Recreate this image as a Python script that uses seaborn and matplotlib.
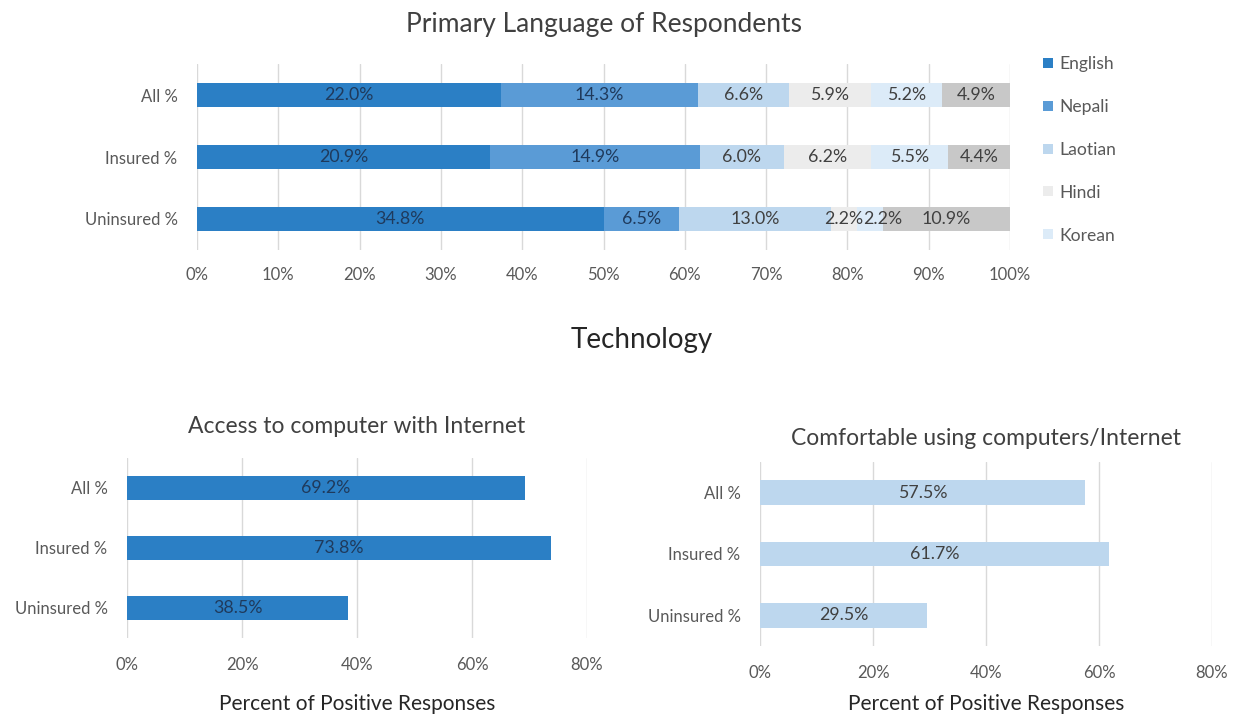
import matplotlib
matplotlib.use("Agg")
import matplotlib.pyplot as plt
from matplotlib.lines import Line2D
import numpy as np
import pandas as pd
import seaborn as sns

# ---- data ----
groups = ["All %", "Insured %", "Uninsured %"]
languages = ["English", "Nepali", "Laotian", "Hindi", "Korean", "Other"]
english = [22.0, 20.9, 34.8]
nepali = [14.3, 14.9, 6.5]
laotian = [6.6, 6.0, 13.0]
hindi = [5.9, 6.2, 2.2]
korean = [5.2, 5.5, 2.2]
other = [4.9, 4.4, 10.9]

access_internet = [69.2, 73.8, 38.5]
comfortable_internet = [57.5, 61.7, 29.5]

lang_colors = ["#2b7fc5", "#5a9bd6", "#bdd7ee", "#ececec", "#dcebf8", "#c8c8c8"]
label_colors = ["#1f3a5c", "#1f3a5c", "#404040", "#404040", "#404040", "#404040"]

sns.set_theme(style="white")
plt.rcParams["font.family"] = ["Lato", "DejaVu Sans"]

GRID = "#d9d9d9"
TICK = "#595959"
LABEL_FS = 12.8

fig = plt.figure(figsize=(12.36, 7.15), dpi=100)


def px_axes(x0, x1, y0, y1):
    W, H = 1236, 715
    return fig.add_axes([x0 / W, 1 - y1 / H, (x1 - x0) / W, (y1 - y0) / H])


def style_axes(ax, xmax, step, xpad=12):
    ax.set_xlim(0, xmax)
    ticks = np.arange(0, xmax + 0.001, step)
    ax.set_xticks(ticks)
    ax.set_xticklabels([f"{t:.0f}%" for t in ticks], color=TICK, fontsize=12)
    ax.tick_params(axis="y", labelsize=12, labelcolor=TICK, length=0, pad=14)
    ax.tick_params(axis="x", length=0, pad=xpad)
    for s in ax.spines.values():
        s.set_visible(False)
    ax.xaxis.grid(True, color=GRID, linewidth=1)
    ax.set_axisbelow(True)
    ax.set_ylabel("")


# ---- top: 100% stacked language shares ----
ax_top = px_axes(197, 1010, 64, 250)
lang_df = pd.DataFrame(
    {"English": english, "Nepali": nepali, "Laotian": laotian,
     "Hindi": hindi, "Korean": korean, "Other": other},
    index=groups,
)
shares = lang_df.div(lang_df.sum(axis=1), axis=0) * 100
cum = shares.cumsum(axis=1)

# overlay cumulative bars from the widest to the narrowest
for i in range(len(languages) - 1, -1, -1):
    d = pd.DataFrame({"group": groups, "cum": cum.iloc[:, i].values})
    sns.barplot(data=d, x="cum", y="group", orient="h", color=lang_colors[i],
                saturation=1, width=0.39, ax=ax_top, linewidth=0)

# segment labels; a label that would run into its left neighbour is nudged right
half_w = 2.35  # half of a label's width, in axis percent
for r, g in enumerate(groups):
    prev_right = -np.inf
    for i, lang in enumerate(languages):
        center = cum.loc[g, lang] - shares.loc[g, lang] / 2
        if center - half_w < prev_right:
            center = prev_right + half_w
        prev_right = center + half_w
        ax_top.text(center, r, f"{lang_df.loc[g, lang]:.1f}%", ha="center",
                    va="center", fontsize=LABEL_FS, color=label_colors[i])

style_axes(ax_top, 100, 10)
ax_top.set_xlabel("")
ax_top.set_title("Primary Language of Respondents", fontsize=19, color="#404040",
                 pad=23)

handles = [Line2D([0], [0], marker="s", linestyle="", markersize=7,
                  markerfacecolor=lang_colors[i], markeredgewidth=0)
           for i in range(5)]
fig.legend(handles, languages[:5], loc="upper left",
           bbox_to_anchor=(1023 / 1236, 1 - 40 / 715), frameon=False,
           fontsize=12.6, labelcolor=TICK, handletextpad=0.2, labelspacing=1.54,
           handlelength=1.0)

fig.text(642 / 1236, 1 - 340 / 715, "Technology", ha="center", va="center",
         fontsize=20, color="#262626")

# ---- bottom left: access to computer with internet ----
ax_bl = px_axes(127, 587, 458, 638)
d_bl = pd.DataFrame({"group": groups, "value": access_internet})
sns.barplot(data=d_bl, x="value", y="group", orient="h", color="#2b7fc5",
            saturation=1, width=0.4, ax=ax_bl, linewidth=0)
for r, v in enumerate(access_internet):
    ax_bl.text(v / 2, r, f"{v:.1f}%", ha="center", va="center",
               fontsize=LABEL_FS, color="#1f3a5c")
style_axes(ax_bl, 80, 20, xpad=14)
ax_bl.set_title("Access to computer with Internet", fontsize=16.5,
                color="#404040", pad=18)
ax_bl.set_xlabel("Percent of Positive Responses", fontsize=15, color="#262626",
                 labelpad=14.5)

# ---- bottom right: comfortable using computers/internet ----
ax_br = px_axes(760, 1212, 462, 646)
d_br = pd.DataFrame({"group": groups, "value": comfortable_internet})
sns.barplot(data=d_br, x="value", y="group", orient="h", color="#bdd7ee",
            saturation=1, width=0.4, ax=ax_br, linewidth=0)
for r, v in enumerate(comfortable_internet):
    ax_br.text(v / 2, r, f"{v:.1f}%", ha="center", va="center",
               fontsize=LABEL_FS, color="#404040")
style_axes(ax_br, 80, 20, xpad=14)
ax_br.set_title("Comfortable using computers/Internet", fontsize=16.5,
                color="#404040", pad=12)
ax_br.set_xlabel("Percent of Positive Responses", fontsize=15, color="#262626",
                 labelpad=9)

fig.savefig("out.png", dpi=100, facecolor="white")
